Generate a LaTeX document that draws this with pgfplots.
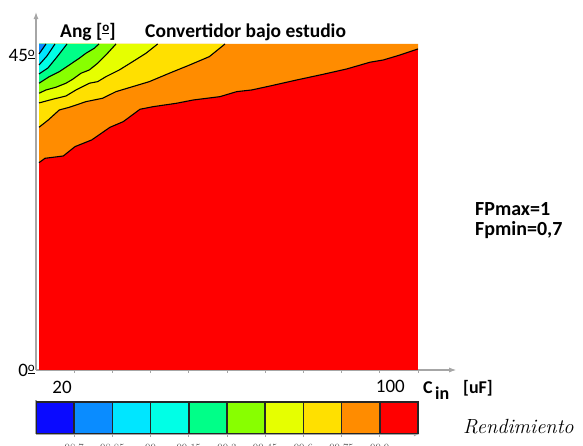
\documentclass[border=0pt]{standalone}
\usepackage{fontspec}
\usepackage{pgfplots}
\pgfplotsset{compat=1.18}
\usetikzlibrary{arrows.meta}
\newfontfamily\carlito{Carlito}
\newcommand\ordo{\raisebox{0.3em}{\fontsize{13}{13}\selectfont\underline{o}}}
\definecolor{cb1}{HTML}{0A0AFF}
\definecolor{cb2}{HTML}{0A8CFF}
\definecolor{cb3}{HTML}{00E6FF}
\definecolor{cb4}{HTML}{00FFE6}
\definecolor{cb5}{HTML}{00FF88}
\definecolor{cb6}{HTML}{88FF00}
\definecolor{cb7}{HTML}{E6FF00}
\definecolor{cb8}{HTML}{FFE000}
\definecolor{cb9}{HTML}{FF8C00}
\definecolor{cb10}{HTML}{FF0000}
\definecolor{axgray}{HTML}{A6A6A6}
\begin{document}
\begin{tikzpicture}
\begin{axis}[
  at={(36pt,76pt)}, anchor=south west,
  scale only axis, width=420.2pt, height=357.9pt,
  xmin=10, xmax=120, ymin=0, ymax=49.4,
  axis lines=left,
  axis line style={draw=axgray, line width=1.1pt},
  x axis line style={-{Latex[length=7pt,width=5pt]}},
  y axis line style={-{Latex[length=7pt,width=5pt]}},
  xtick={20,30,...,110}, xticklabels={},
  ytick=\empty,
  tick style={draw=axgray, line width=0.8pt},
  tick align=outside, major tick length=3pt,
]
% base region
\addplot[fill=cb10, draw=none] coordinates {(10.79,0)(110,0)(110,45)(10.79,45)} --cycle;
% regions above each contour
\addplot[fill=cb9, draw=none] coordinates {(10.79,28.62)(12.36,29.22)(17.15,29.54)(20.21,30.83)(24.58,31.75)(29.37,33.50)(32.85,34.28)(37.23,35.99)(40.71,36.35)(46.83,36.82)(51.18,37.27)(58.17,37.73)(62.54,38.42)(66.47,38.65)(71.26,39.20)(78.25,40.03)(85.21,40.82)(91.34,41.55)(97.43,42.48)(100.92,42.79)(105.29,43.48)(110,44.31)(110,45)(10.79,45)} --cycle;
\addplot[fill=cb8, draw=none] coordinates {(10.79,33.50)(13.22,34.51)(16.10,35.89)(18.72,36.26)(23.09,37.04)(27.46,37.51)(30.94,38.42)(35.31,39.11)(39.66,39.80)(44.90,40.96)(50.13,42.08)(55.37,43.25)(59.48,45)(10.79,45)} --cycle;
\addplot[fill=cb7, draw=none] coordinates {(10.79,36.86)(14.37,37.37)(17.85,37.82)(20.47,38.65)(23.95,39.58)(26.15,39.80)(28.32,40.49)(31.81,41.41)(35.31,42.56)(38.80,43.72)(41.86,45)(10.79,45)} --cycle;
\addplot[fill=cb6, draw=none] coordinates {(10.79,38.20)(12.62,38.65)(15.24,39.03)(17.85,39.58)(19.61,40.13)(21.78,40.96)(23.95,41.41)(26.15,42.34)(28.32,43.48)(30.94,45)(10.79,45)} --cycle;
\addplot[fill=cb5, draw=none] coordinates {(10.79,39.58)(13.48,40.49)(16.10,41.18)(18.72,42.10)(21.34,43.03)(23.09,43.72)(25.26,44.41)(26.49,45)(10.79,45)} --cycle;
\addplot[fill=cb4, draw=none] coordinates {(10.79,40.86)(13.14,41.69)(15.50,43.21)(18.12,45)(10.79,45)} --cycle;
\addplot[fill=cb3, draw=none] coordinates {(10.79,42.10)(12.88,43.35)(14.97,45)(10.79,45)} --cycle;
\addplot[fill=cb2, draw=none] coordinates {(10.79,43.62)(11.70,44.30)(12.62,45)(10.79,45)} --cycle;
% contour lines
\pgfplotsset{cline/.style={black, line width=1.1pt, line join=round}}
\addplot[cline] coordinates {(10.79,28.62)(12.36,29.22)(17.15,29.54)(20.21,30.83)(24.58,31.75)(29.37,33.50)(32.85,34.28)(37.23,35.99)(40.71,36.35)(46.83,36.82)(51.18,37.27)(58.17,37.73)(62.54,38.42)(66.47,38.65)(71.26,39.20)(78.25,40.03)(85.21,40.82)(91.34,41.55)(97.43,42.48)(100.92,42.79)(105.29,43.48)(110,44.31)};
\addplot[cline] coordinates {(10.79,33.50)(13.22,34.51)(16.10,35.89)(18.72,36.26)(23.09,37.04)(27.46,37.51)(30.94,38.42)(35.31,39.11)(39.66,39.80)(44.90,40.96)(50.13,42.08)(55.37,43.25)(59.48,45)};
\addplot[cline] coordinates {(10.79,36.86)(14.37,37.37)(17.85,37.82)(20.47,38.65)(23.95,39.58)(26.15,39.80)(28.32,40.49)(31.81,41.41)(35.31,42.56)(38.80,43.72)(41.86,45)};
\addplot[cline] coordinates {(10.79,38.20)(12.62,38.65)(15.24,39.03)(17.85,39.58)(19.61,40.13)(21.78,40.96)(23.95,41.41)(26.15,42.34)(28.32,43.48)(30.94,45)};
\addplot[cline] coordinates {(10.79,39.58)(13.48,40.49)(16.10,41.18)(18.72,42.10)(21.34,43.03)(23.09,43.72)(25.26,44.41)(26.49,45)};
\addplot[cline] coordinates {(10.79,40.86)(13.14,41.69)(15.50,43.21)(18.12,45)};
\addplot[cline] coordinates {(10.79,42.10)(12.88,43.35)(14.97,45)};
\addplot[cline] coordinates {(10.79,43.62)(11.70,44.30)(12.62,45)};
\end{axis}
% colour bar
\begin{axis}[
  at={(36pt,12pt)}, anchor=south west,
  scale only axis, width=383.9pt, height=34pt,
  xmin=0, xmax=10.05, ymin=0, ymax=1.0625,
  axis lines=left,
  axis line style={draw=axgray, line width=1.1pt},
  x axis line style={-{Latex[length=6pt,width=5pt]}},
  y axis line style={-},
  xtick={1,...,9},
  xticklabels={98.7,98.85,99,99.15,99.3,99.45,99.6,99.75,99.9},
  xticklabel style={font=\fontsize{11}{11}\selectfont, text=black!70, yshift=-4pt},
  ytick=\empty,
  tick style={draw=axgray, line width=0.8pt},
  tick align=outside, major tick length=3pt,
]
\pgfplotsset{cbox/.style={draw=black!85, line width=1.5pt}}
\addplot[cbox, fill=cb1] coordinates {(0,0)(1,0)(1,1)(0,1)} --cycle;
\addplot[cbox, fill=cb2] coordinates {(1,0)(2,0)(2,1)(1,1)} --cycle;
\addplot[cbox, fill=cb3] coordinates {(2,0)(3,0)(3,1)(2,1)} --cycle;
\addplot[cbox, fill=cb4] coordinates {(3,0)(4,0)(4,1)(3,1)} --cycle;
\addplot[cbox, fill=cb5] coordinates {(4,0)(5,0)(5,1)(4,1)} --cycle;
\addplot[cbox, fill=cb6] coordinates {(5,0)(6,0)(6,1)(5,1)} --cycle;
\addplot[cbox, fill=cb7] coordinates {(6,0)(7,0)(7,1)(6,1)} --cycle;
\addplot[cbox, fill=cb8] coordinates {(7,0)(8,0)(8,1)(7,1)} --cycle;
\addplot[cbox, fill=cb9] coordinates {(8,0)(9,0)(9,1)(8,1)} --cycle;
\addplot[cbox, fill=cb10] coordinates {(9,0)(10,0)(10,1)(9,1)} --cycle;
\end{axis}
% texts
\node[anchor=base west, inner sep=0, font=\fontsize{19.5}{20}\carlito\bfseries] at (60pt,408.7pt) {Ang [\ordo]};
\node[anchor=base west, inner sep=0, font=\fontsize{19.5}{20}\carlito\bfseries] at (145pt,408.7pt) {Convertidor bajo estudio};
\node[anchor=base east, inner sep=0, font=\fontsize{19}{20}\carlito] at (35pt,384pt) {45\ordo};
\node[anchor=base east, inner sep=0, font=\fontsize{19}{20}\carlito] at (35pt,69pt) {0\ordo};
\node[anchor=base, inner sep=0, font=\fontsize{19}{20}\carlito] at (62pt,52.7pt) {20};
\node[anchor=base east, inner sep=0, font=\fontsize{19}{20}\carlito] at (405pt,53pt) {100};
\node[anchor=base west, inner sep=0, font=\fontsize{18}{20}\carlito\bfseries] at (423pt,52pt) {C};
\node[anchor=base west, inner sep=0, font=\fontsize{18}{20}\carlito\bfseries] at (435pt,46pt) {in};
\node[anchor=base west, inner sep=0, font=\fontsize{18}{20}\carlito\bfseries] at (463pt,52pt) {[uF]};
\node[anchor=base west, inner sep=0, font=\fontsize{20}{22}\carlito\bfseries] at (475pt,230pt) {FPmax=1};
\node[anchor=base west, inner sep=0, font=\fontsize{20}{22}\carlito\bfseries] at (475pt,210pt) {Fpmin=0,7};
\node[anchor=base west, inner sep=0, font=\fontsize{20.5}{22}\selectfont\itshape] at (463pt,12pt) {Rendimiento};
\pgfresetboundingbox
\useasboundingbox (0,0) rectangle (583pt,446pt);
\end{tikzpicture}
\end{document}
